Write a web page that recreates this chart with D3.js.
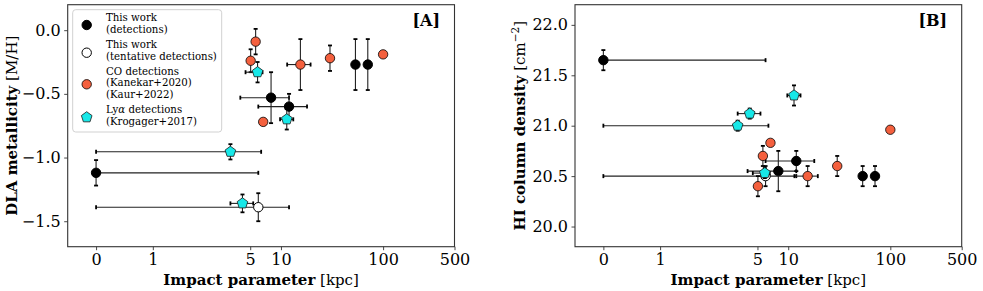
<!DOCTYPE html>
<html><head><meta charset="utf-8">
<script src="https://cdn.jsdelivr.net/npm/d3@7/dist/d3.min.js"></script>
<style>
body{margin:0;background:#fff;}
svg{display:block;font-family:"DejaVu Serif",serif;}
</style></head>
<body><svg id="c" width="983" height="291"></svg>
<script>
// ---------- data ----------
const xTicks = [0, 1, 5, 10, 100, 500];
const xTickLabels = ["0", "1", "5", "10", "100", "500"];
const yTicksA = [0.0, -0.5, -1.0, -1.5];
const yTicksB = [20.0, 20.5, 21.0, 21.5, 22.0];

// This work (detections)
const detX      = [0, 8, 12, 53.6, 70.8];
const detXLo    = [0, 4, 6, 0, 0];
const detXHi    = [6, 4, 6, 0, 0];
const detMH     = [-1.12, -0.53, -0.60, -0.27, -0.27];
const detMHErr  = [0.10, 0.20, 0.10, 0.20, 0.20];
const detNHI    = [21.65, 20.55, 20.65, 20.50, 20.50];
const detNHIErr = [0.10, 0.20, 0.10, 0.10, 0.10];

// This work (tentative detections)
const tenX      = [6];
const tenXLo    = [6];
const tenXHi    = [6];
const tenMH     = [-1.39];
const tenMHErr  = [0.11];
const tenNHI    = [20.50];
const tenNHIErr = [0.10];

// CO detections
const coX      = [5.65, 5.05, 15.5, 30.2, 100, 6.7];
const coXLo    = [0, 0, 4, 0, 0, 0];
const coXHi    = [0, 0, 4, 0, 0, 0];
const coMH     = [-0.09, -0.24, -0.27, -0.22, -0.19, -0.72];
const coMHErr  = [0.10, 0.09, 0.20, 0.10, 0, 0];
const coNHI    = [20.70, 20.40, 20.50, 20.60, 20.96, 20.83];
const coNHIErr = [0.10, 0.10, 0.10, 0.10, 0, 0];

// Lya detections
const lyX      = [5.9, 11.4, 3.2, 4.2];
const lyXLo    = [1.4, 1.6, 3.2, 1.0];
const lyXHi    = [0.7, 1.8, 3.2, 1.15];
const lyMH     = [-0.33, -0.70, -0.955, -1.36];
const lyMHErr  = [0.08, 0.08, 0.06, 0.07];
const lyNHI    = [20.53, 21.30, 21.00, 21.12];
const lyNHIErr = [0.05, 0.10, 0.05, 0.05];

// ---------- helpers ----------
const LINTHRESH = 2, LINSCALE = 1 / (1 - 1 / 10);
const T = v => { const m = Math.abs(v); return m <= LINTHRESH ? v * LINSCALE : Math.sign(v) * LINTHRESH * (LINSCALE + Math.log10(m / LINTHRESH)); };

const svg = d3.select("#c");
const yTop = 4.7, yBot = 246.7;
const RED = "#F4603E", CYAN = "#17E8E8";

function pentagon(r) {
  const p = d3.path();
  for (let k = 0; k < 5; k++) {
    const a = -Math.PI / 2 + k * 2 * Math.PI / 5;
    const px = r * Math.cos(a), py = r * Math.sin(a);
    if (k === 0) p.moveTo(px, py); else p.lineTo(px, py);
  }
  p.closePath();
  return p.toString();
}

function drawMarker(g, x, y, kind) {
  if (kind === "pent") {
    g.append("path").attr("d", pentagon(5.6)).attr("transform", `translate(${x},${y})`)
      .attr("fill", CYAN).attr("stroke", "#1a1a1a").attr("stroke-width", 0.8);
  } else {
    const fill = kind === "det" ? "#000" : kind === "ten" ? "#fff" : RED;
    g.append("circle").attr("cx", x).attr("cy", y).attr("r", 4.7)
      .attr("fill", fill).attr("stroke", "#000").attr("stroke-width", kind === "co" ? 0.8 : 1);
  }
}

function panel(x0, x1, yDomain, yTicks, yFmt, series, label) {
  const xs = d3.scaleLinear().domain([T(-0.5), T(500)]).range([x0, x1]);
  const ys = d3.scaleLinear().domain(yDomain).range([yBot, yTop]);
  const px = v => xs(T(v));
  const g = svg.append("g");

  // axes
  const xa = g.append("g").attr("transform", `translate(0,${yBot})`)
    .call(d3.axisBottom(xs).tickValues(xTicks.map(T)).tickFormat((d, i) => xTickLabels[i]).tickSize(3.5).tickPadding(3.5).tickSizeOuter(0));
  const ya = g.append("g").attr("transform", `translate(${x0},0)`)
    .call(d3.axisLeft(ys).tickValues(yTicks).tickFormat(yFmt).tickSize(3.5).tickPadding(3.5).tickSizeOuter(0));
  [xa, ya].forEach(a => {
    a.select(".domain").remove();
    a.selectAll(".tick line").attr("stroke", "#333").attr("stroke-width", 0.9);
    a.selectAll(".tick text").attr("font-family", "DejaVu Serif").attr("font-size", 16).attr("fill", "#000");
  });
  // frame
  g.append("rect").attr("x", x0).attr("y", yTop).attr("width", x1 - x0).attr("height", yBot - yTop)
    .attr("fill", "none").attr("stroke", "#333").attr("stroke-width", 1.1);

  // series
  series.forEach(s => {
    const sg = g.append("g");
    s.x.forEach((xv, i) => {
      const cx = px(xv), cy = ys(s.y[i]);
      if (s.xlo[i] > 0 || s.xhi[i] > 0) {
        const a = px(xv - s.xlo[i]), b = px(xv + s.xhi[i]);
        sg.append("line").attr("x1", a).attr("x2", b).attr("y1", cy).attr("y2", cy).attr("stroke", "#222").attr("stroke-width", 1.1);
        [a, b].forEach(e => sg.append("line").attr("x1", e).attr("x2", e).attr("y1", cy - 2).attr("y2", cy + 2).attr("stroke", "#000").attr("stroke-width", 1.8));
      }
      if (s.yerr[i] > 0) {
        const a = ys(s.y[i] - s.yerr[i]), b = ys(s.y[i] + s.yerr[i]);
        sg.append("line").attr("x1", cx).attr("x2", cx).attr("y1", a).attr("y2", b).attr("stroke", "#222").attr("stroke-width", 1.1);
        [a, b].forEach(e => sg.append("line").attr("y1", e).attr("y2", e).attr("x1", cx - 2).attr("x2", cx + 2).attr("stroke", "#000").attr("stroke-width", 1.8));
      }
    });
    s.x.forEach((xv, i) => drawMarker(sg, px(xv), ys(s.y[i]), s.kind));
  });

  // x label
  const xl = g.append("text").attr("x", (x0 + x1) / 2).attr("y", 284.5).attr("text-anchor", "middle").attr("font-size", 15);
  xl.append("tspan").attr("font-weight", "bold").text("Impact parameter");
  xl.append("tspan").text(" [kpc]");

  // panel tag
  g.append("text").attr("x", x1 - 14.5).attr("y", 26).attr("text-anchor", "end")
    .attr("font-size", 16).attr("font-weight", "bold").text(label);
  return g;
}

const fmt1 = d => d3.format(".1f")(d).replace("-", "\u2212");

panel(67.7, 454.5, [-1.7, 0.2], yTicksA, fmt1, [
  {kind: "det", x: detX, xlo: detXLo, xhi: detXHi, y: detMH, yerr: detMHErr},
  {kind: "ten", x: tenX, xlo: tenXLo, xhi: tenXHi, y: tenMH, yerr: tenMHErr},
  {kind: "co",  x: coX,  xlo: coXLo,  xhi: coXHi,  y: coMH,  yerr: coMHErr},
  {kind: "pent", x: lyX, xlo: lyXLo, xhi: lyXHi, y: lyMH, yerr: lyMHErr}
], "[A]");

panel(575, 961.7, [19.8, 22.2], yTicksB, fmt1, [
  {kind: "det", x: detX, xlo: detXLo, xhi: detXHi, y: detNHI, yerr: detNHIErr},
  {kind: "ten", x: tenX, xlo: tenXLo, xhi: tenXHi, y: tenNHI, yerr: tenNHIErr},
  {kind: "co",  x: coX,  xlo: coXLo,  xhi: coXHi,  y: coNHI,  yerr: coNHIErr},
  {kind: "pent", x: lyX, xlo: lyXLo, xhi: lyXHi, y: lyNHI, yerr: lyNHIErr}
], "[B]");

// y labels
const midY = (yTop + yBot) / 2;
const yla = svg.append("text").attr("transform", `translate(16.5,${midY}) rotate(-90)`).attr("text-anchor", "middle").attr("font-size", 15);
yla.append("tspan").attr("font-weight", "bold").text("DLA metallicity");
yla.append("tspan").text(" [M/H]");
const ylb = svg.append("text").attr("transform", `translate(524.5,${midY}) rotate(-90)`).attr("text-anchor", "middle").attr("font-size", 15);
ylb.append("tspan").attr("font-weight", "bold").text("HI column density");
ylb.append("tspan").text(" [cm");
ylb.append("tspan").attr("font-size", 10.5).attr("dy", -6).text("\u22122");
ylb.append("tspan").attr("dy", 6).text("]");

// legend
const lg = svg.append("g");
lg.append("rect").attr("x", 72.7).attr("y", 9.7).attr("width", 149).attr("height", 122.3).attr("rx", 3)
  .attr("fill", "#fff").attr("fill-opacity", 0.85).attr("stroke", "#ccc").attr("stroke-width", 0.9);
const legendItems = [
  {kind: "det", my: 25, lines: ["This work", "(detections)"], base: 21},
  {kind: "ten", my: 52.7, lines: ["This work", "(tentative detections)"], base: 48},
  {kind: "co", my: 84.3, lines: ["CO detections", "(Kanekar+2020)", "(Kaur+2022)"], base: 74.5},
  {kind: "pent", my: 117.3, lines: ["Ly\u03b1 detections", "(Krogager+2017)"], base: 113}
];
legendItems.forEach(it => {
  drawMarker(lg, 86.7, it.my, it.kind);
  it.lines.forEach((l, j) => {
    const t = lg.append("text").attr("x", 106).attr("y", it.base + j * 11.8).attr("font-size", 10.2);
    if (l.includes("\u03b1")) {
      t.append("tspan").text("Ly");
      t.append("tspan").attr("font-style", "italic").text("\u03b1");
      t.append("tspan").text(" detections");
    } else t.text(l);
  });
});
</script></body></html>
